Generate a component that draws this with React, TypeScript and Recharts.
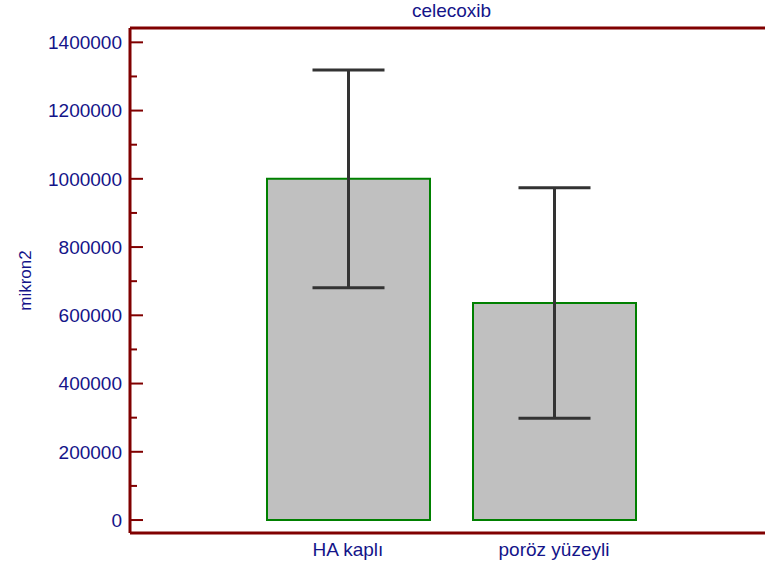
import { BarChart, Bar, XAxis, YAxis, ErrorBar, ReferenceLine } from 'recharts'

const categories = ['HA kaplı', 'poröz yüzeyli']
const means = [1000000, 636000]
const errors = [319000, 338000]
const yTicks = [
  0, 100000, 200000, 300000, 400000, 500000, 600000, 700000,
  800000, 900000, 1000000, 1100000, 1200000, 1300000, 1400000,
]
const yMin = -38000
const yMax = 1442000
const title = 'celecoxib'
const yLabel = 'mikron2'

const data = categories.map((name, i) => ({ name, mean: means[i], err: errors[i] }))

const AXIS = '#800000'
const TEXT = '#141489'
const FONT = '"Liberation Sans", Arial, sans-serif'

function YTick({ x, y, payload }: any) {
  const major = payload.value % 200000 === 0
  return (
    <g>
      <line x1={x} x2={x + (major ? 13 : 7)} y1={y} y2={y} stroke={AXIS} strokeWidth={2} />
      {major && (
        <text x={x - 8} y={y} dy="0.36em" textAnchor="end" fill={TEXT} fontSize={19} fontFamily={FONT}>
          {payload.value}
        </text>
      )}
    </g>
  )
}

function XTick({ x, y, payload }: any) {
  return (
    <text x={x} y={y + 23} textAnchor="middle" fill={TEXT} fontSize={19} fontFamily={FONT}>
      {payload.value}
    </text>
  )
}

export default function App() {
  return (
    <div style={{ position: 'absolute', left: 0, top: 0, background: '#fff' }}>
      <BarChart width={765} height={572} data={data} margin={{ top: 28, right: 0, left: 0, bottom: 0 }}>
        <XAxis
          dataKey="name"
          height={39}
          padding={{ left: 115, right: 108 }}
          axisLine={{ stroke: AXIS, strokeWidth: 3 }}
          tickLine={false}
          tickSize={0}
          tickMargin={0}
          tick={<XTick />}
        />
        <YAxis
          width={130}
          type="number"
          domain={[yMin, yMax]}
          allowDataOverflow
          ticks={yTicks}
          interval={0}
          axisLine={{ stroke: AXIS, strokeWidth: 3 }}
          tickLine={false}
          tickSize={0}
          tickMargin={0}
          tick={<YTick />}
          label={({ viewBox }: any) => (
            <text
              transform={`translate(31, ${viewBox.y + viewBox.height / 2}) rotate(-90)`}
              textAnchor="middle"
              fill={TEXT}
              fontSize={17}
              fontFamily={FONT}
            >
              {yLabel}
            </text>
          )}
        />
        <ReferenceLine
          y={yMax}
          stroke={AXIS}
          strokeWidth={3}
          label={({ viewBox }: any) => (
            <text
              x={viewBox.x + viewBox.width / 2 + 4}
              y={viewBox.y - 11}
              textAnchor="middle"
              fill={TEXT}
              fontSize={19}
              fontFamily={FONT}
            >
              {title}
            </text>
          )}
        />
        <Bar dataKey="mean" barSize={163} fill="#c0c0c0" stroke="#008000" strokeWidth={2} isAnimationActive={false}>
          <ErrorBar dataKey="err" width={36} stroke="#333333" strokeWidth={3} isAnimationActive={false} />
        </Bar>
      </BarChart>
    </div>
  )
}
